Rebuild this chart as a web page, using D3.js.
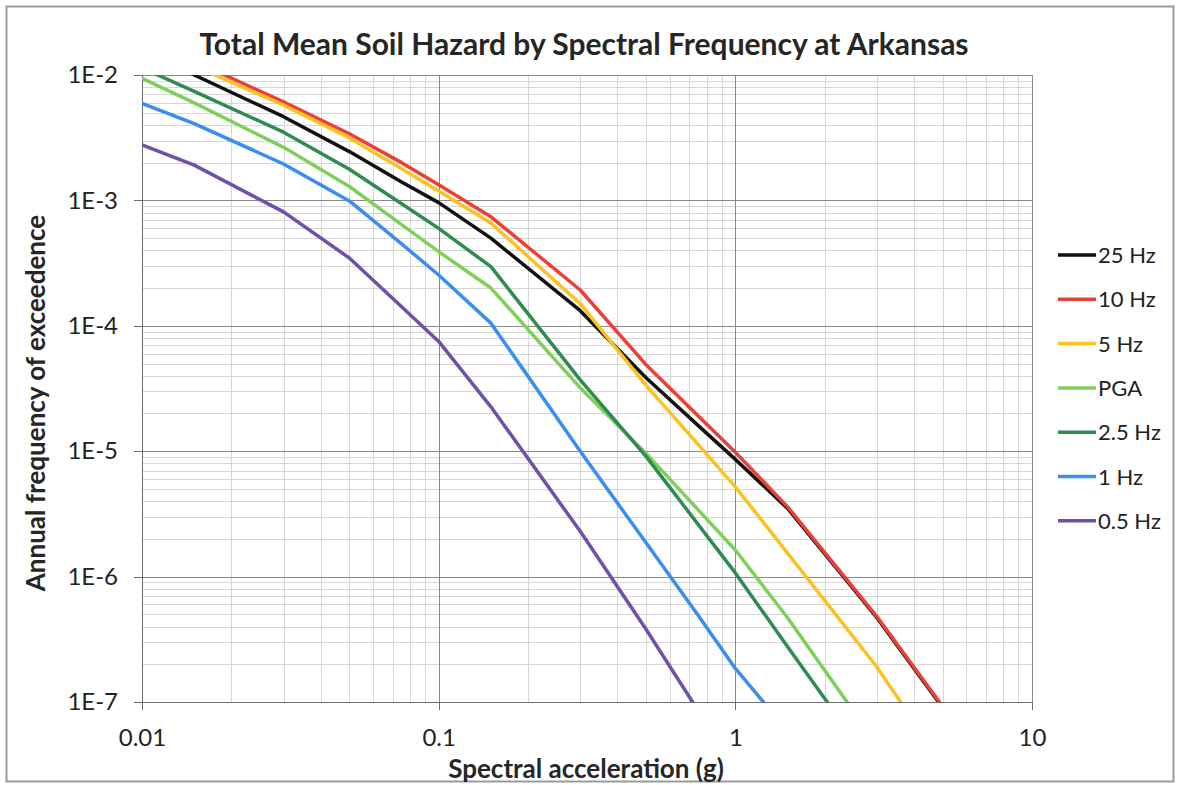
<!DOCTYPE html>
<html>
<head>
  <meta charset="utf-8">
  <script src="https://d3js.org/d3.v7.min.js"></script>
  <style>
    body { margin: 0; background: #fff; }
    svg { display: block; font-family: Lato, "Open Sans", sans-serif; }
    .grid-minor line { stroke: #d6d6d6; stroke-width: 1; shape-rendering: crispEdges; }
    .grid-major line { stroke: #8a8a8a; stroke-width: 1; shape-rendering: crispEdges; }
    .axis path, .axis line { stroke: #6d6d6d; shape-rendering: crispEdges; }
    .axis text { fill: #222; font-size: 24px; font-family: Lato, sans-serif; }
  </style>
</head>
<body>
<script>
  // spectral acceleration (g) sample points
  var accel = [0.01, 0.015, 0.03, 0.05, 0.075, 0.1, 0.15, 0.3, 0.5, 0.75, 1, 1.5, 3, 5];

  // annual frequency of exceedence, one array per frequency
  var hz25 = [1.56e-2, 1.0e-2, 4.65e-3, 2.45e-3, 1.4e-3, 9.6e-4, 5.0e-4, 1.32e-4, 3.85e-5, 1.6e-5, 8.6e-6, 3.5e-6, 4.7e-7, 9.0e-8];
  var hz10 = [2.0e-2, 1.29e-2, 6.1e-3, 3.4e-3, 2.0e-3, 1.33e-3, 7.4e-4, 1.93e-4, 4.9e-5, 1.91e-5, 9.8e-6, 3.6e-6, 4.8e-7, 9.2e-8];
  var hz5 = [1.8e-2, 1.18e-2, 5.75e-3, 3.15e-3, 1.79e-3, 1.19e-3, 6.6e-4, 1.5e-4, 3.35e-5, 1.13e-5, 5.2e-6, 1.54e-6, 1.9e-7, 3.2e-8];
  var pga = [9.4e-3, 6.0e-3, 2.65e-3, 1.29e-3, 6.4e-4, 3.9e-4, 2.0e-4, 3.2e-5, 9.6e-6, 3.4e-6, 1.63e-6, 4.7e-7, 4.6e-8];
  var hz2_5 = [1.14e-2, 7.4e-3, 3.5e-3, 1.77e-3, 9.4e-4, 5.98e-4, 2.96e-4, 3.7e-5, 9.1e-6, 2.6e-6, 1.07e-6, 2.76e-7, 2.8e-8];
  var hz1 = [5.95e-3, 4.1e-3, 1.95e-3, 9.9e-4, 4.5e-4, 2.54e-4, 1.05e-4, 1.0e-5, 1.86e-6, 4.9e-7, 1.85e-7, 5.9e-8];
  var hz05 = [2.77e-3, 1.91e-3, 8.1e-4, 3.47e-4, 1.42e-4, 7.5e-5, 2.26e-5, 2.3e-6, 3.8e-7, 8.5e-8];

  var seriesNames = ["25 Hz", "10 Hz", "5 Hz", "PGA", "2.5 Hz", "1 Hz", "0.5 Hz"];
  var seriesColors = ["#111111", "#ec3f37", "#fdc21f", "#7fd05a", "#2e8c50", "#3a8ef0", "#7050a8"];
  var seriesValues = [hz25, hz10, hz5, pga, hz2_5, hz1, hz05];

  var xTicks = [0.01, 0.1, 1, 10];
  var yTicks = [1e-2, 1e-3, 1e-4, 1e-5, 1e-6, 1e-7];

  var width = 1179, height = 785;
  var plotL = 142, plotR = 1032, plotT = 75, plotB = 702;

  var svg = d3.select("body").append("svg")
      .attr("width", width)
      .attr("height", height);

  // outer frame
  svg.append("rect")
      .attr("x", 6.5).attr("y", 6.5)
      .attr("width", 1167).attr("height", 775)
      .attr("fill", "#fff")
      .attr("stroke", "#9a9a9a")
      .attr("stroke-width", 2);

  var x = d3.scaleLog().domain([0.01, 10]).range([plotL, plotR]);
  var y = d3.scaleLog().domain([1e-7, 1e-2]).range([plotB, plotT]);

  // minor grid
  var minorX = [], minorY = [];
  [0.01, 0.1, 1].forEach(function(d) {
    for (var k = 2; k <= 9; k++) minorX.push(d * k);
  });
  [1e-7, 1e-6, 1e-5, 1e-4, 1e-3].forEach(function(d) {
    for (var k = 2; k <= 9; k++) minorY.push(d * k);
  });

  var gMinor = svg.append("g").attr("class", "grid-minor");
  gMinor.selectAll("line.v").data(minorX).enter().append("line")
      .attr("class", "v")
      .attr("x1", function(d) { return Math.round(x(d)) + 0.5; })
      .attr("x2", function(d) { return Math.round(x(d)) + 0.5; })
      .attr("y1", plotT).attr("y2", plotB);
  gMinor.selectAll("line.h").data(minorY).enter().append("line")
      .attr("class", "h")
      .attr("y1", function(d) { return Math.round(y(d)) + 0.5; })
      .attr("y2", function(d) { return Math.round(y(d)) + 0.5; })
      .attr("x1", plotL).attr("x2", plotR);

  var gMajor = svg.append("g").attr("class", "grid-major");
  gMajor.selectAll("line.v").data(xTicks).enter().append("line")
      .attr("class", "v")
      .attr("x1", function(d) { return Math.round(x(d)) + 0.5; })
      .attr("x2", function(d) { return Math.round(x(d)) + 0.5; })
      .attr("y1", plotT).attr("y2", plotB);
  gMajor.selectAll("line.h").data(yTicks).enter().append("line")
      .attr("class", "h")
      .attr("y1", function(d) { return Math.round(y(d)) + 0.5; })
      .attr("y2", function(d) { return Math.round(y(d)) + 0.5; })
      .attr("x1", plotL).attr("x2", plotR);

  // axes
  svg.append("g")
      .attr("class", "axis")
      .attr("transform", "translate(0," + plotB + ")")
      .call(d3.axisBottom(x).tickValues(xTicks).tickSize(8).tickPadding(19)
        .tickFormat(function(d) { return String(d); }));

  svg.append("g")
      .attr("class", "axis")
      .attr("transform", "translate(" + plotL + ",0)")
      .call(d3.axisLeft(y).tickValues(yTicks).tickSize(8).tickPadding(16)
        .tickFormat(function(d) { return "1E" + Math.round(Math.log10(d)); }));

  // curves
  svg.append("clipPath").attr("id", "plotclip")
    .append("rect")
      .attr("x", plotL).attr("y", plotT)
      .attr("width", plotR - plotL).attr("height", plotB - plotT);

  var line = d3.line()
      .x(function(d) { return x(d[0]); })
      .y(function(d) { return y(d[1]); });

  var gLines = svg.append("g").attr("clip-path", "url(#plotclip)");
  seriesValues.forEach(function(vals, i) {
    var pts = vals.map(function(v, j) { return [accel[j], v]; });
    gLines.append("path")
        .datum(pts)
        .attr("fill", "none")
        .attr("stroke", seriesColors[i])
        .attr("stroke-width", 3.5)
        .attr("stroke-linejoin", "round")
        .attr("d", line);
  });

  // title and axis titles
  svg.append("text")
      .attr("x", 584).attr("y", 55)
      .attr("text-anchor", "middle")
      .attr("font-size", 30)
      .attr("font-weight", "bold")
      .attr("fill", "#262626")
      .text("Total Mean Soil Hazard by Spectral Frequency at Arkansas");

  svg.append("text")
      .attr("x", 586).attr("y", 778)
      .attr("text-anchor", "middle")
      .attr("font-size", 26)
      .attr("font-weight", "bold")
      .attr("fill", "#262626")
      .text("Spectral acceleration (g)");

  svg.append("text")
      .attr("transform", "translate(45,403) rotate(-90)")
      .attr("text-anchor", "middle")
      .attr("font-size", 26)
      .attr("font-weight", "bold")
      .attr("fill", "#262626")
      .text("Annual frequency of exceedence");

  // legend
  var legend = svg.append("g").attr("transform", "translate(1058,255)");
  seriesNames.forEach(function(name, i) {
    var row = legend.append("g").attr("transform", "translate(0," + (i * 44.3) + ")");
    row.append("line")
        .attr("x1", 0).attr("x2", 38)
        .attr("stroke", seriesColors[i])
        .attr("stroke-width", 3.5);
    row.append("text")
        .attr("x", 40).attr("y", 8)
        .attr("font-size", 22)
        .attr("fill", "#222")
        .text(name);
  });
</script>
</body>
</html>
